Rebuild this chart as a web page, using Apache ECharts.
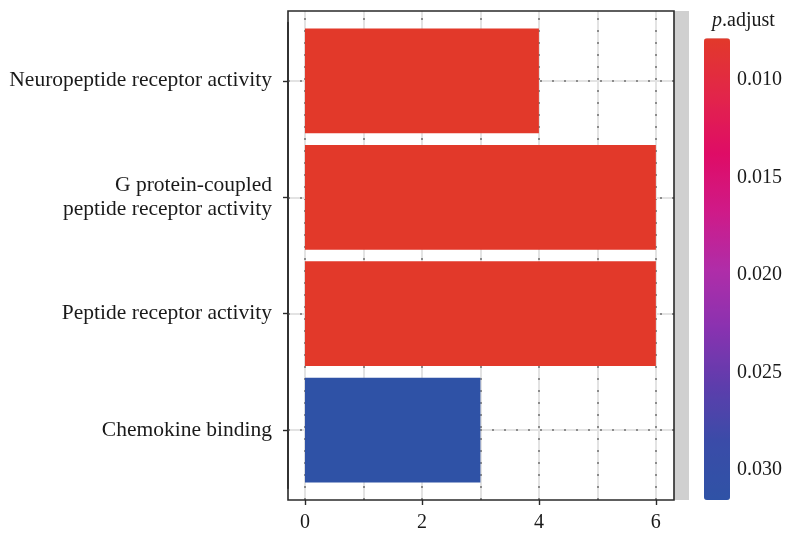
<!DOCTYPE html>
<html>
<head>
<meta charset="utf-8">
<script src="https://cdn.jsdelivr.net/npm/echarts@6.0.0/dist/echarts.min.js"></script>
<style>
  html, body { margin: 0; padding: 0; background: #ffffff; }
  #chart { width: 785px; height: 537px; }
</style>
</head>
<body>
<div id="chart"></div>
<script>
// GO terms (top to bottom), gene counts and adjusted p-values
const categories = [
  'Neuropeptide receptor activity',
  'G protein-coupled\npeptide receptor activity',
  'Peptide receptor activity',
  'Chemokine binding'
];
const counts = [4, 6, 6, 3];
const pAdjust = [0.0079, 0.0079, 0.0079, 0.0315];

// axis ticks
const xTicks = [0, 2, 4, 6];
const xGridValues = [0, 1, 2, 3, 4, 5, 6];
const colorbarTicks = [0.010, 0.015, 0.020, 0.025, 0.030];

// colour scale for p.adjust (low = red, high = blue)
const colorStops = ['#E2392A', '#E2254A', '#DF0C66', '#CF1A88', '#B02DA8', '#8A32B0', '#5E3DAC', '#3A4CA8', '#2F52A6'];

const FONT = 'Liberation Serif';
const INK = '#1a1a1a';
const FRAME = '#2a2a2a';

// panel geometry
const panel = { left: 288, top: 11, width: 386, height: 489 };
const xRange = [-0.29, 6.31];
const pRange = [Math.min(...pAdjust) - 0.00004, Math.max(...pAdjust) + 0.00004];
// discrete axis padded by 0.6 of a step on each side
const nCat = categories.length;
const step = panel.height / (nCat + 0.2);
const dataGrid = { left: panel.left, top: panel.top + step * 0.1, width: panel.width, height: step * nCat };
const bar = { left: 704, top: 38.3, width: 26, height: 461.7 };

const chart = echarts.init(document.getElementById('chart'), null, { renderer: 'canvas' });

const gridLineSolid = { color: '#E3E3E3', width: 2, type: 'solid' };
const gridLineDots = { color: '#707070', width: 1.5, type: [2, 10] };

function markSeries(xIdx, yIdx, lines, style) {
  return {
    type: 'line',
    xAxisIndex: xIdx,
    yAxisIndex: yIdx,
    data: [],
    z: 1,
    silent: true,
    markLine: {
      silent: true,
      z: 1,
      symbol: ['none', 'none'],
      label: { show: false },
      lineStyle: style,
      animation: false,
      data: lines
    }
  };
}

chart.setOption({
  animation: false,
  backgroundColor: '#ffffff',
  title: {
    text: '{i|p}.adjust',
    left: 707,
    top: 6,
    textStyle: {
      fontFamily: FONT, fontSize: 20, fontWeight: 'normal', color: INK,
      rich: { i: { fontFamily: FONT, fontSize: 20, fontStyle: 'italic', color: INK } }
    }
  },
  grid: [
    { left: panel.left, top: panel.top, width: panel.width, height: panel.height,
      show: true, borderColor: FRAME, borderWidth: 1.6, backgroundColor: 'transparent', z: 5 },
    { left: dataGrid.left, top: dataGrid.top, width: dataGrid.width, height: dataGrid.height },
    { left: bar.left, top: bar.top, width: bar.width, height: bar.height }
  ],
  xAxis: [
    {
      gridIndex: 0, type: 'value', min: xRange[0], max: xRange[1],
      axisLine: { show: false },
      axisTick: { show: true, length: 5, customValues: xTicks, lineStyle: { color: FRAME, width: 1.4 } },
      axisLabel: { customValues: xTicks, margin: 13, fontFamily: FONT, fontSize: 20, color: INK },
      splitLine: { show: false }
    },
    {
      gridIndex: 1, type: 'value', min: xRange[0], max: xRange[1], show: false,
      splitLine: { show: false }
    },
    {
      gridIndex: 2, type: 'value', min: 0, max: 1, show: false, splitLine: { show: false }
    }
  ],
  yAxis: [
    { gridIndex: 0, type: 'value', min: 0, max: 1, show: false, splitLine: { show: false } },
    {
      gridIndex: 1, type: 'category', inverse: true, data: categories,
      axisLine: { show: true, onZero: false, lineStyle: { color: FRAME, width: 1.6 } },
      axisTick: { show: true, alignWithLabel: true, length: 5, lineStyle: { color: FRAME, width: 1.4 } },
      axisLabel: { margin: 16, fontFamily: FONT, fontSize: 21.5, color: INK, lineHeight: 24, align: 'right' },
      splitLine: { show: false }
    },
    {
      gridIndex: 2, type: 'value', min: pRange[0], max: pRange[1], inverse: true, position: 'right',
      axisLine: { show: false },
      axisTick: { show: true, inside: true, length: 5, customValues: colorbarTicks,
                  lineStyle: { color: 'rgba(255,255,255,0.75)', width: 1.5 } },
      axisLabel: { customValues: colorbarTicks, margin: 8, fontFamily: FONT, fontSize: 20, color: INK,
                   formatter: v => v.toFixed(3) },
      splitLine: { show: false }
    },
    {
      gridIndex: 2, type: 'value', min: pRange[0], max: pRange[1], inverse: true, position: 'left',
      axisLine: { show: false },
      axisTick: { show: true, inside: true, length: 5, customValues: colorbarTicks,
                  lineStyle: { color: 'rgba(255,255,255,0.75)', width: 1.5 } },
      axisLabel: { show: false },
      splitLine: { show: false }
    }
  ],
  visualMap: {
    type: 'continuous',
    seriesIndex: 4,
    dimension: 2,
    min: pRange[0],
    max: pRange[1],
    inverse: true,
    orient: 'vertical',
    left: bar.left,
    top: bar.top,
    itemWidth: bar.width,
    itemHeight: bar.height,
    padding: 0,
    calculable: false,
    hoverLink: false,
    inRange: { color: colorStops },
    z: 2
  },
  graphic: [
    {
      type: 'rect', silent: true, z: 0,
      shape: { x: panel.left + panel.width, y: panel.top, width: 15, height: panel.height },
      style: { fill: '#D0D0D0' }
    }
  ],
  series: [
    markSeries(0, 0, xGridValues.map(v => ({ xAxis: v })), gridLineSolid),
    markSeries(0, 0, xGridValues.map(v => ({ xAxis: v })), gridLineDots),
    markSeries(1, 1, categories.map((c, i) => ({ yAxis: i })), gridLineSolid),
    markSeries(1, 1, categories.map((c, i) => ({ yAxis: i })), gridLineDots),
    {
      type: 'bar',
      xAxisIndex: 1,
      yAxisIndex: 1,
      encode: { x: 0, y: 1 },
      barCategoryGap: '10%',
      z: 3,
      data: categories.map((c, i) => [counts[i], i, pAdjust[i]])
    }
  ]
});
</script>
</body>
</html>
